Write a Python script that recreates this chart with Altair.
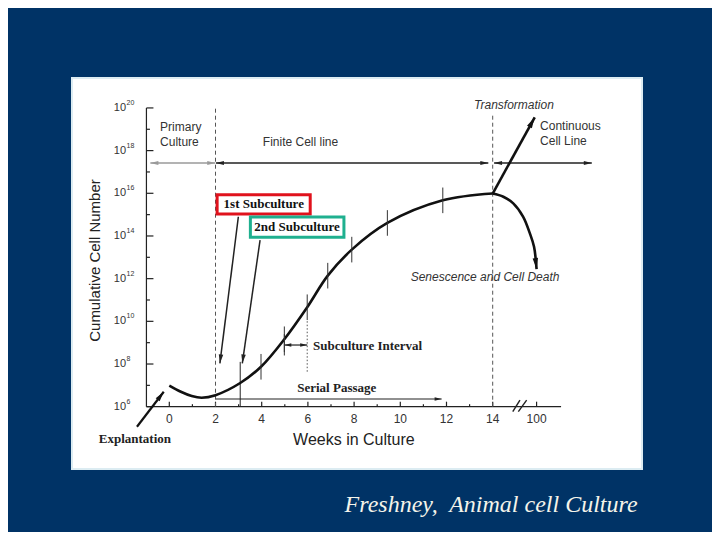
import math
import altair as alt
import pandas as pd

# ---------------- data ----------------
# growth curve: weeks in culture vs log10(cumulative cell number)
weeks = [0, 0.5, 0.97, 1.4, 2.0, 3.07, 3.97, 4.98, 5.97, 6.86, 7.90, 9.44, 11.84, 14.0]
log_cells = [6.99, 6.70, 6.50, 6.42, 6.54, 7.11, 7.87, 9.16, 10.66, 12.14, 13.36, 14.61, 15.67, 15.99]

# passage marks on the curve
passage_weeks = [3.97, 4.98, 5.97, 6.86, 7.90, 9.44, 11.84]
passage_log = [7.87, 9.16, 10.66, 12.14, 13.36, 14.61, 15.67]

# senescence branch
senescence_weeks = [14.0, 14.46, 14.89, 15.32, 15.61, 15.79, 15.90]
senescence_log = [15.99, 15.84, 15.53, 14.90, 14.12, 13.49, 12.45]

# transformation branch
transformation_weeks = [14.0, 15.82]
transformation_log = [15.99, 19.56]

# axis ticks / labels
x_tick_pos = [0, 2, 4, 6, 8, 10, 12, 14, 15.9]
x_tick_labels = ["0", "2", "4", "6", "8", "10", "12", "14", "100"]
x_minor_pos = [1, 3, 5, 7, 9, 11, 13]
y_major_exp = [6, 8, 10, 12, 14, 16, 18, 20]
y_minor_exp = [7, 9, 11, 13, 15, 17, 19]

# ---------------- scales ----------------
W, H = 704, 524
XMIN, XMAX = -6.983, 23.494
YMIN, YMAX = 0.128, 24.683
PXW = W / (XMAX - XMIN)
PXD = H / (YMAX - YMIN)
xs = alt.Scale(domain=[XMIN, XMAX], nice=False, zero=False)
ys = alt.Scale(domain=[YMIN, YMAX], nice=False, zero=False)


def X(f):
    return alt.X(f, type="quantitative", scale=xs, axis=None)


def Y(f):
    return alt.Y(f, type="quantitative", scale=ys, axis=None)


def ang(x0, y0, x1, y1):
    dx = (x1 - x0) * PXW
    dys = -(y1 - y0) * PXD
    return math.degrees(math.atan2(dx, -dys)) % 360


ARROW = "M0,0L0.5,2L-0.5,2Z"


def segs(rows, color="#222", width=1.0, dash=None):
    df = pd.DataFrame(rows, columns=["x0", "y0", "x1", "y1"])
    kw = dict(color=color, strokeWidth=width)
    if dash:
        kw["strokeDash"] = dash
    return alt.Chart(df).mark_rule(**kw).encode(
        x=X("x0"), y=Y("y0"), x2=alt.X2("x1"), y2=alt.Y2("y1"))


def heads(rows, color="#222", size=64):
    df = pd.DataFrame(rows, columns=["x", "y", "a"])
    return alt.Chart(df).mark_point(shape=ARROW, filled=True, color=color,
                                    size=size, opacity=1, strokeWidth=0).encode(
        x=X("x"), y=Y("y"), angle=alt.Angle("a:Q", scale=None))


def txt(text, x, y, size=12, font="Liberation Sans", weight="normal",
        style="normal", align="center", color="#333", angle=0, dy=0):
    df = pd.DataFrame({"x": [x], "y": [y], "t": [text]})
    return alt.Chart(df).mark_text(size=size, font=font, fontWeight=weight,
                                   fontStyle=style, align=align, baseline="middle",
                                   color=color, angle=angle, dy=dy).encode(
        x=X("x"), y=Y("y"), text="t:N")


layers = []

# white panel
layers.append(alt.Chart(pd.DataFrame({"a": [0]})).mark_rect(
    color="white", stroke="#dcecf2", strokeWidth=2).encode(
    x=alt.value(64), x2=alt.value(634), y=alt.value(70), y2=alt.value(461)))

# axes lines
AX_X = -0.99
layers.append(segs([[AX_X, 6, 16.96, 6], [AX_X, 6, AX_X, 20]], color="#222", width=1.2))
# x ticks (pointing up)
layers.append(segs([[p, 6, p, 6 + 5 / PXD] for p in x_tick_pos], color="#222", width=1.2))
layers.append(segs([[p, 6, p, 6 + 2.5 / PXD] for p in x_minor_pos], color="#222", width=1.2))
# axis break //
layers.append(segs([[14.87, 5.77, 15.18, 6.31], [15.11, 5.77, 15.47, 6.31]], color="#222", width=1.4))
# y ticks (pointing right)
layers.append(segs([[AX_X, e, AX_X + 7 / PXW, e] for e in y_major_exp], color="#222", width=1.2))
layers.append(segs([[AX_X, e, AX_X + 3.5 / PXW, e] for e in y_minor_exp], color="#222", width=1.2))

# x labels
xl = pd.DataFrame({"x": x_tick_pos, "t": x_tick_labels, "y": [5.42] * len(x_tick_pos)})
layers.append(alt.Chart(xl).mark_text(size=12, font="Liberation Sans", color="#333",
                                      baseline="middle").encode(x=X("x"), y=Y("y"), text="t:N"))
# y labels 10^n
yl = pd.DataFrame({"y": y_major_exp, "t": ["10"] * len(y_major_exp),
                   "e": [str(e) for e in y_major_exp],
                   "x": [-1.87] * len(y_major_exp), "xe": [-1.85] * len(y_major_exp)})
layers.append(alt.Chart(yl).mark_text(size=11, font="Liberation Sans", color="#333",
                                      align="right", baseline="middle").encode(
    x=X("x"), y=Y("y"), text="t:N"))
layers.append(alt.Chart(yl).mark_text(size=7, font="Liberation Sans", color="#333",
                                      align="left", baseline="middle", dy=-5).encode(
    x=X("xe"), y=Y("y"), text="e:N"))

# axis titles
layers.append(txt("Weeks in Culture", 7.99, 4.44, size=16, color="#222"))
layers.append(txt("Cumulative Cell Number", -3.22, 12.85, size=15, color="#222", angle=270))

# vertical dashed lines at 2 and 14 weeks
layers.append(segs([[2, 6, 2, 19.97], [14, 6, 14, 19.67]], color="#555", width=1, dash=[4, 3]))
# dotted line under 6-week tick
layers.append(segs([[5.97, 7.64, 5.97, 10.05]], color="#555", width=1, dash=[1.5, 2]))
# solid vertical line at 3 weeks
layers.append(segs([[3.07, 6, 3.07, 8.1]], color="#222", width=1))

# horizontal phase arrows
HY = 17.42
layers.append(segs([[-0.82, HY, 1.99, HY]], color="#9a9a9a", width=1.5))
layers.append(heads([[-0.82, HY, 270], [1.99, HY, 90]], color="#9a9a9a", size=64))
layers.append(segs([[2.02, HY, 13.81, HY], [14.06, HY, 18.29, HY]], color="#222", width=1.3))
layers.append(heads([[2.02, HY, 270], [13.81, HY, 90], [14.06, HY, 270], [18.29, HY, 90]],
                    color="#222", size=64))

# growth curve
curve = pd.DataFrame({"x": weeks, "y": log_cells})
layers.append(alt.Chart(curve).mark_line(color="#111", strokeWidth=2.6,
                                         interpolate="catmull-rom").encode(x=X("x"), y=Y("y")))
# passage ticks
layers.append(segs([[w, l - 0.6, w, l + 0.6] for w, l in zip(passage_weeks, passage_log)],
                   color="#333", width=1))

# senescence branch
sen = pd.DataFrame({"x": senescence_weeks, "y": senescence_log})
layers.append(alt.Chart(sen).mark_line(color="#111", strokeWidth=2.6,
                                       interpolate="catmull-rom").encode(x=X("x"), y=Y("y")))
layers.append(heads([[senescence_weeks[-1], senescence_log[-1],
                      ang(senescence_weeks[-2], senescence_log[-2],
                          senescence_weeks[-1], senescence_log[-1])]], color="#111", size=121))

# transformation branch
tw, tl = transformation_weeks, transformation_log
layers.append(segs([[tw[0], tl[0], tw[1], tl[1]]], color="#111", width=2.6))
layers.append(heads([[tw[1], tl[1], ang(tw[0], tl[0], tw[1], tl[1])]], color="#111", size=121))

# subculture pointer arrows
sub_arrows = [[2.99, 14.90, 2.19, 8.03], [3.93, 13.81, 3.16, 8.03]]
layers.append(segs(sub_arrows, color="#222", width=1.5))
layers.append(heads([[a[2], a[3], ang(*a)] for a in sub_arrows], color="#222", size=81))

# explantation arrow
ex = [-1.40, 5.06, -0.24, 6.70]
layers.append(segs([ex], color="#111", width=2.2))
layers.append(heads([[ex[2], ex[3], ang(*ex)]], color="#111", size=100))

# subculture interval double arrow
layers.append(segs([[4.98, 8.89, 5.97, 8.89]], color="#222", width=1.2))
layers.append(heads([[4.98, 8.89, 270], [5.97, 8.89, 90]], color="#222", size=49))
layers.append(segs([[4.98, 8.4, 4.98, 9.4]], color="#333", width=1))

# serial passage arrow
layers.append(segs([[2.02, 6.36, 11.79, 6.36]], color="#222", width=1.2))
layers.append(heads([[11.79, 6.36, 90]], color="#222", size=49))

# boxed labels
boxes = pd.DataFrame({"x0": [2.07, 3.51], "x1": [6.10, 7.56], "y0": [15.93, 14.89],
                      "y1": [15.03, 13.94], "c": ["#e0121c", "#1fb08f"]})
for i in range(2):
    layers.append(alt.Chart(boxes.iloc[[i]]).mark_rect(
        fill="white", stroke=boxes["c"][i], strokeWidth=3).encode(
        x=X("x0"), x2=alt.X2("x1"), y=Y("y0"), y2=alt.Y2("y1")))
layers.append(txt("1st Subculture", 4.09, 15.48, size=13, font="Liberation Serif",
                  weight="bold", color="#111"))
layers.append(txt("2nd Subculture", 5.53, 14.42, size=13, font="Liberation Serif",
                  weight="bold", color="#111"))

# annotations
layers.append(txt("Primary", -0.40, 19.11, align="left", color="#333"))
layers.append(txt("Culture", -0.40, 18.40, align="left", color="#333"))
layers.append(txt("Finite Cell line", 5.68, 18.40, color="#333"))
layers.append(txt("Transformation", 14.92, 20.14, style="italic", color="#333"))
layers.append(txt("Continuous", 16.05, 19.15, align="left", color="#333"))
layers.append(txt("Cell Line", 16.05, 18.45, align="left", color="#333"))
layers.append(txt("Senescence and Cell Death", 13.67, 12.09, style="italic", color="#333"))
layers.append(txt("Subculture Interval", 6.22, 8.84, size=13, font="Liberation Serif",
                  weight="bold", align="left", color="#222"))
layers.append(txt("Serial Passage", 7.25, 6.88, size=13, font="Liberation Serif",
                  weight="bold", color="#222"))
layers.append(txt("Explantation", -1.49, 4.49, size=13, font="Liberation Serif",
                  weight="bold", color="#222"))

# footer
layers.append(txt("Freshney,\u00a0 Animal cell Culture", 13.93, 1.39, size=24,
                  font="Liberation Serif", style="italic", color="#f4f4ea"))

chart = alt.layer(*layers).properties(
    width=W, height=H, background="#003366", padding=0,
    autosize=alt.AutoSizeParams(type="none"),
).configure_view(stroke="transparent")

chart.save("out.html", embed_options={"renderer": "svg", "actions": False})
